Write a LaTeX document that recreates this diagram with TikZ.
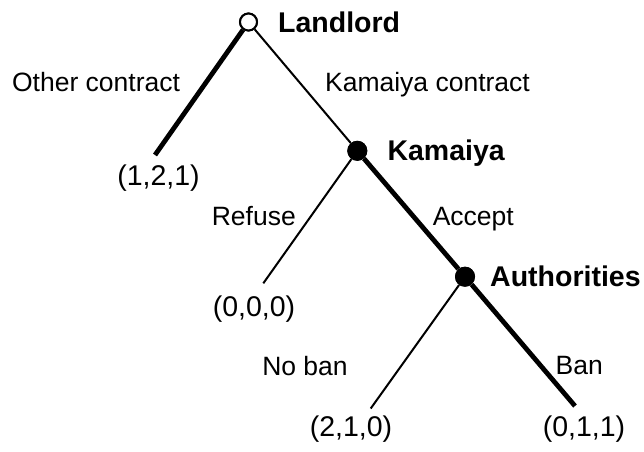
\documentclass[tikz,border=0pt]{standalone}
\usepackage{fontspec}
\setmainfont{Liberation Sans}
\begin{document}
\begin{tikzpicture}[x=1pt,y=-1pt,
  thinedge/.style={line width=2pt},
  thickedge/.style={line width=4.8pt},
  opennode/.style={circle,draw,line width=2pt,fill=white,inner sep=0pt,minimum size=17pt},
  fillednode/.style={circle,fill=black,inner sep=0pt,minimum size=20pt},
  player/.style={anchor=base west,inner sep=0pt,font=\fontsize{28.5}{32}\selectfont\bfseries},
  actlabel/.style={anchor=base,inner sep=0pt,font=\fontsize{26.5}{30}\selectfont},
  payoff/.style={anchor=base,inner sep=0pt,font=\fontsize{28.5}{32}\selectfont}]
\useasboundingbox (0,0) rectangle (644,451);
% decision nodes
\node[opennode] (R) at (248.5,22) {};
\node[fillednode] (K) at (357.3,150.8) {};
\node[fillednode] (A) at (465,276.7) {};
% leaf ends
\coordinate (L1) at (155,155);
\coordinate (L2) at (263.3,283.3);
\coordinate (L3) at (370.7,408.5);
\coordinate (L4) at (575,406);
% edges
\draw[thickedge] (R) -- (L1);
\draw[thinedge] (R) -- (K);
\draw[thinedge] (K) -- (L2);
\draw[thickedge] (K) -- (A);
\draw[thinedge] (A) -- (L3);
\draw[thickedge] (A) -- (L4);
% redraw node markers on top
\node[opennode] at (R) {};
\node[fillednode] at (K) {};
\node[fillednode] at (A) {};
% player labels
\node[player] (tR) at (278,32.3) {Landlord};
\node[player] (tK) at (387.3,160.7) {Kamaiya};
\node[player] (tA) at (490,286.7) {Authorities};
% action labels
\node[actlabel] (aOC) at (96,91.7) {Other contract};
\node[actlabel] (aKC) at (427.5,91.7) {Kamaiya contract};
\node[actlabel] (aRf) at (253.8,225) {Refuse};
\node[actlabel] (aAc) at (473.3,225) {Accept};
\node[actlabel] (aNB) at (305,375) {No ban};
\node[actlabel] (aB) at (579.2,374) {Ban};
% payoffs
\node[payoff] (p1) at (158.5,185) {(1,2,1)};
\node[payoff] (p2) at (254,316) {(0,0,0)};
\node[payoff] (p3) at (351,436.7) {(2,1,0)};
\node[payoff] (p4) at (584,436.7) {(0,1,1)};
\end{tikzpicture}
\end{document}
